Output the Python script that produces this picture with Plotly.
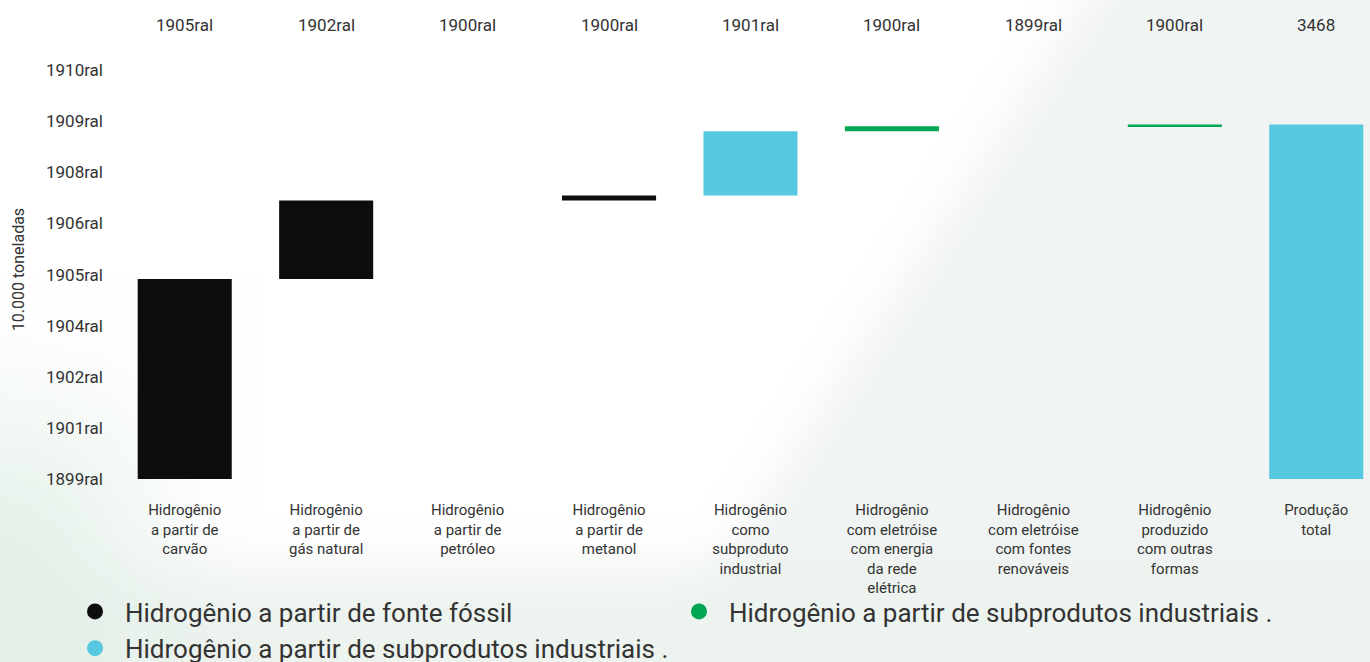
import base64, struct, zlib
import numpy as np
import plotly.graph_objects as go

# ---------------- data ----------------
categories = [
    "Hidrogênio<br>a partir de<br>carvão",
    "Hidrogênio<br>a partir de<br>gás natural",
    "Hidrogênio<br>a partir de<br>petróleo",
    "Hidrogênio<br>a partir de<br>metanol",
    "Hidrogênio<br>como<br>subproduto<br>industrial",
    "Hidrogênio<br>com eletróise<br>com energia<br>da rede<br>elétrica",
    "Hidrogênio<br>com eletróise<br>com fontes<br>renováveis",
    "Hidrogênio<br>produzido<br>com outras<br>formas",
    "Produção<br>total",
]
values = [1958, 768, 0, 49, 627, 49, 0, 17, 3468]
is_total = [False, False, False, False, False, False, False, False, True]
groups = ["fossil", "fossil", "fossil", "fossil", "byprod", "green", "green", "green", "byprod"]
top_labels = ["1905ral", "1902ral", "1900ral", "1900ral", "1901ral",
              "1900ral", "1899ral", "1900ral", "3468"]
y_tick_values = [0, 500, 1000, 1500, 2000, 2500, 3000, 3500, 4000]
y_tick_labels = ["1899ral", "1901ral", "1902ral", "1904ral", "1905ral",
                 "1906ral", "1908ral", "1909ral", "1910ral"]
legend_names = ["Hidrogênio a partir de fonte fóssil",
                "Hidrogênio a partir de subprodutos industriais .",
                "Hidrogênio a partir de subprodutos industriais ."]
legend_groups = ["fossil", "green", "byprod"]

colors = {"fossil": "#0d0c0f", "byprod": "#56c8e0", "green": "#00a651"}

# ---------------- layout geometry ----------------
W, H = 1370, 662
ML, MR, MT, MB = 114, 0, 60, 183
PW, PH = W - ML - MR, H - MT - MB

# waterfall bases
bases = []
running = 0
for v, tot in zip(values, is_total):
    if tot:
        bases.append(0)
    else:
        bases.append(running)
        running += v

# ---------------- background gradient image ----------------
def smooth(v):
    v = np.clip(v, 0, 1)
    return v * v * (3 - 2 * v)

S = 5
gw, gh = W // S + 1, H // S + 1
X, Y = np.meshgrid((np.arange(gw) + 0.5) * S, (np.arange(gh) + 0.5) * S)
white = np.array([255, 255, 255], dtype=float)
c_diag = np.array([240, 244, 242], dtype=float)
c_bot = np.array([237, 243, 239], dtype=float)
c_left = np.array([228, 240, 232], dtype=float)

t_diag = smooth((X - (1040 - 0.65 * Y)) / 110)
t_bot = smooth((Y - 520) / 110)
t_left = smooth((260 - X) / 260) * smooth((Y - 280) / 320)

img = white[None, None, :] * np.ones((gh, gw, 1))
img = img * (1 - t_diag[..., None]) + c_diag * t_diag[..., None]
img = img * (1 - t_bot[..., None]) + c_bot * t_bot[..., None]
img = img * (1 - t_left[..., None]) + c_left * t_left[..., None]
img = np.clip(img, 0, 255).astype(np.uint8)

def png_uri(a):
    h, w, _ = a.shape
    raw = b"".join(b"\x00" + a[r].tobytes() for r in range(h))
    def chunk(tag, data):
        c = struct.pack(">I", len(data)) + tag + data
        return c + struct.pack(">I", zlib.crc32(tag + data) & 0xffffffff)
    png = (b"\x89PNG\r\n\x1a\n"
           + chunk(b"IHDR", struct.pack(">IIBBBBB", w, h, 8, 2, 0, 0, 0))
           + chunk(b"IDAT", zlib.compress(raw, 9))
           + chunk(b"IEND", b""))
    return "data:image/png;base64," + base64.b64encode(png).decode()

# ---------------- figure ----------------
fig = go.Figure()
fig.add_trace(go.Bar(
    x=categories, y=values, base=bases,
    marker=dict(color=[colors[g] for g in groups], line=dict(width=0)),
    width=0.665, showlegend=False,
    hovertemplate="%{x}<br>%{y}<extra></extra>",
))
for name, g in zip(legend_names, legend_groups):
    fig.add_trace(go.Scatter(
        x=[None], y=[None], mode="markers", name=name,
        marker=dict(symbol="circle", size=21, color=colors[g]),
    ))

for cat, lab in zip(categories, top_labels):
    fig.add_annotation(x=cat, xref="x", y=(PH + MT - 25) / PH, yref="paper",
                       text=lab, showarrow=False, yanchor="middle",
                       font=dict(family="Roboto", size=17, color="#333333"))

fig.add_layout_image(dict(
    source=png_uri(img), xref="paper", yref="paper",
    x=-ML / PW, y=1 + MT / PH, sizex=W / PW, sizey=H / PH,
    xanchor="left", yanchor="top", sizing="stretch", layer="below",
))

fig.update_layout(
    width=W, height=H,
    margin=dict(l=ML, r=MR, t=MT, b=MB, autoexpand=False),
    paper_bgcolor="white", plot_bgcolor="rgba(0,0,0,0)",
    font=dict(family="Roboto", color="#333333"),
    legend=dict(orientation="h", x=(65 - ML) / PW, xanchor="left",
                y=-(588 - (MT + PH)) / PH, yanchor="top",
                font=dict(family="Roboto", size=26, color="#333333"),
                entrywidth=539, entrywidthmode="pixels", itemwidth=50,
                bgcolor="rgba(0,0,0,0)", traceorder="normal"),
    xaxis=dict(type="category", range=[-0.5, 8.38], showgrid=False,
               zeroline=False, showline=False, ticks="",
               tickfont=dict(family="Roboto", size=15, color="#333333"),
               ticklabelstandoff=20, fixedrange=True),
    yaxis=dict(range=[0, 4100], showgrid=False, zeroline=False, showline=False,
               tickvals=y_tick_values, ticktext=y_tick_labels,
               tickfont=dict(family="Roboto", size=17, color="#333333"),
               ticklabelstandoff=10, ticks="",
               title=dict(text="10.000 toneladas", standoff=17,
                          font=dict(family="Roboto", size=16, color="#333333")),
               fixedrange=True),
    showlegend=True,
)

fig.write_html("out.html")
